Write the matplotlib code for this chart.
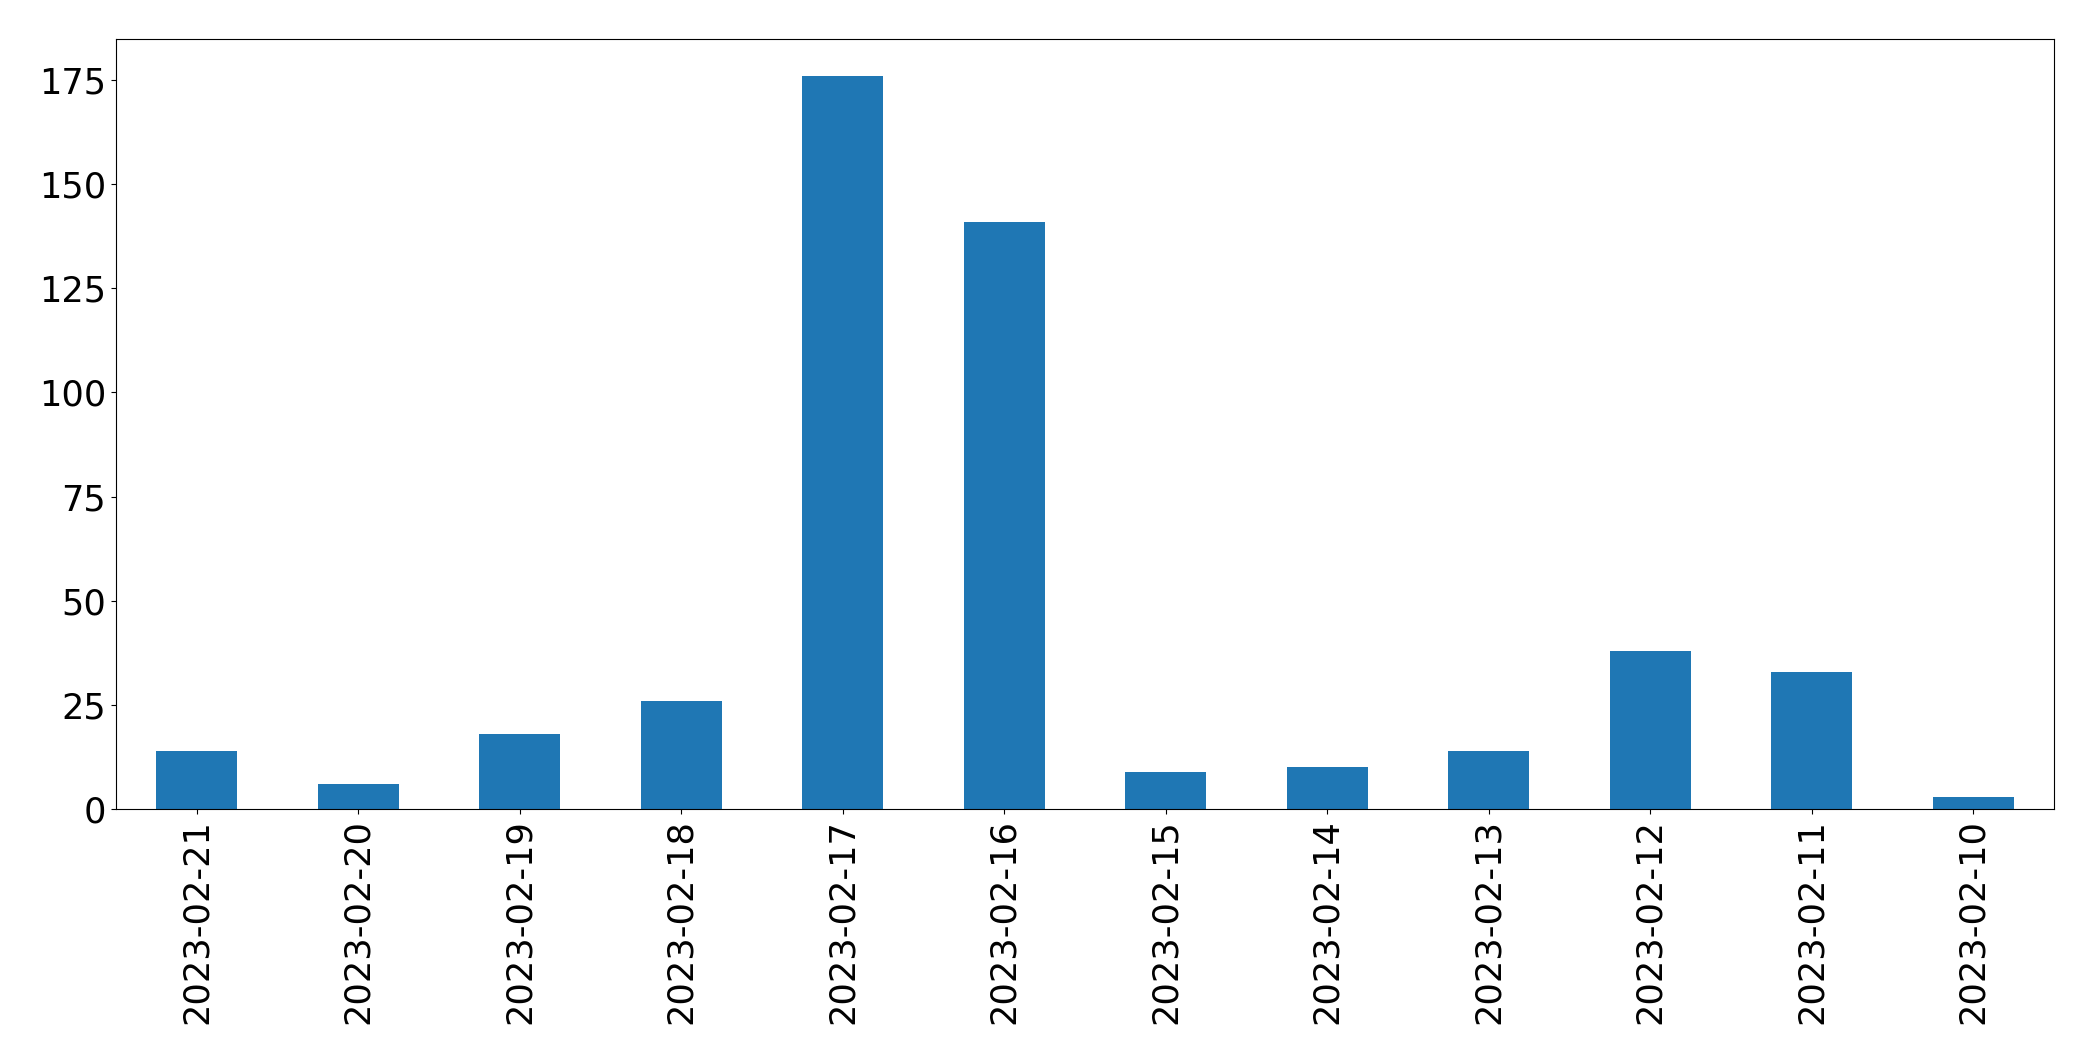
import pandas as pd
import matplotlib
matplotlib.use("Agg")
import matplotlib.pyplot as plt

# Daily counts (newest first, as in the source)
dates = ["2023-02-21", "2023-02-20", "2023-02-19", "2023-02-18",
         "2023-02-17", "2023-02-16", "2023-02-15", "2023-02-14",
         "2023-02-13", "2023-02-12", "2023-02-11", "2023-02-10"]
counts = [14, 6, 18, 26, 176, 141, 9, 10, 14, 38, 33, 3]

daily = pd.Series(counts, index=dates)

# Plot
fig = plt.figure(figsize=(20.93, 10.61), dpi=100)
ax = fig.add_axes([0.0554, 0.2375, 0.9260, 0.7257])
daily.plot(kind="bar", ax=ax, fontsize=25.3)
ax.tick_params(axis="both", labelsize=25.3)

fig.savefig("out.png", dpi=100)
